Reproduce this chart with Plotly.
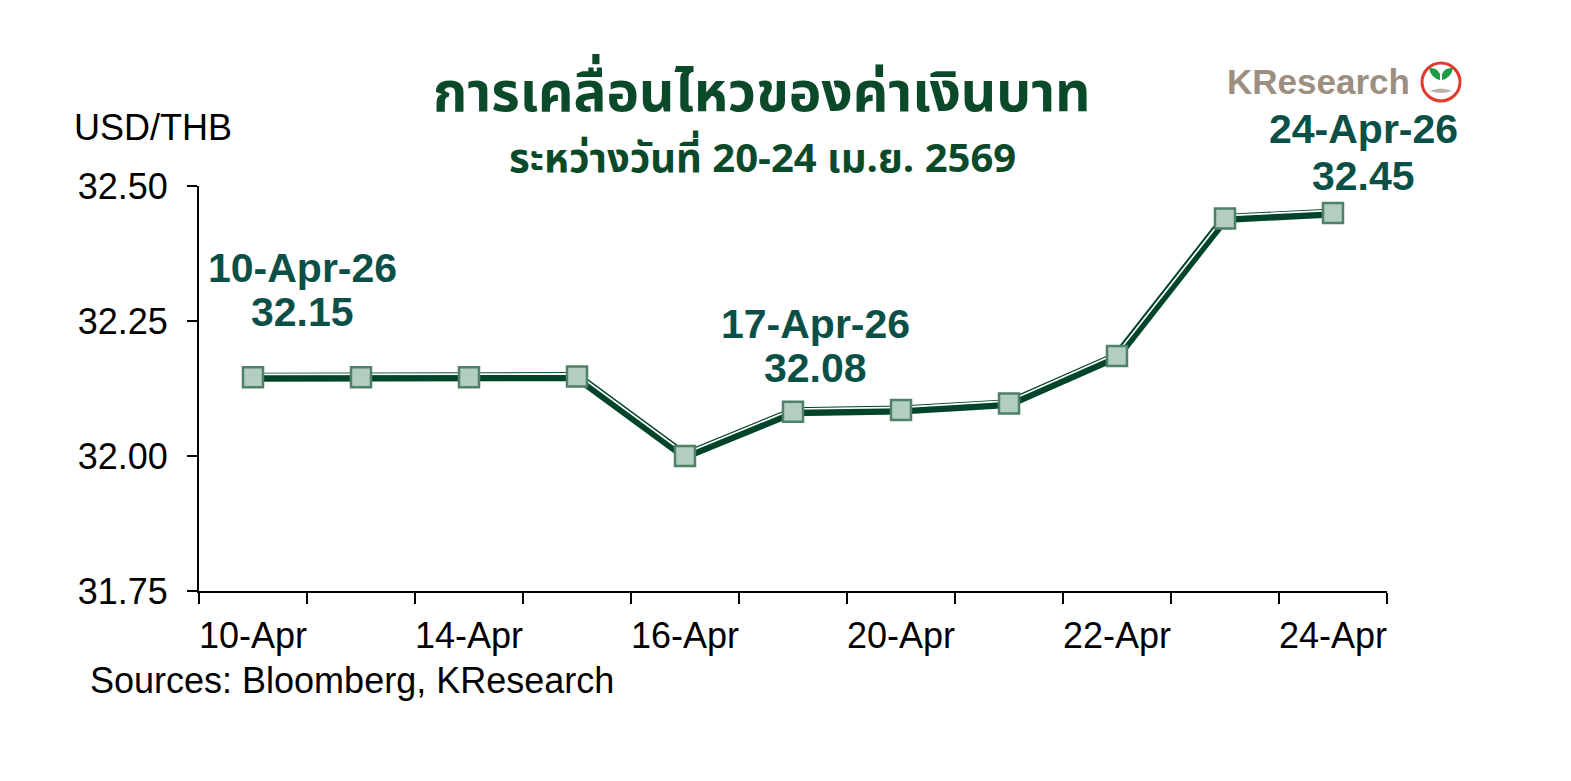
import plotly.graph_objects as go

dates = ["10-Apr", "13-Apr", "14-Apr", "15-Apr", "16-Apr", "17-Apr",
         "20-Apr", "21-Apr", "22-Apr", "23-Apr", "24-Apr"]
usdthb = [32.146, 32.146, 32.146, 32.147, 32.00, 32.082, 32.085, 32.097, 32.185, 32.44, 32.45]
tick_text = [d if i % 2 == 0 else "" for i, d in enumerate(dates)]
y_ticks = [31.75, 32.00, 32.25, 32.50]

callouts = [  # (index, date label, value label, xshift, yshift_date, yshift_value)
    (0, "10-Apr-26", "32.15", 49, 109, 65),
    (5, "17-Apr-26", "32.08", 22, 88, 44),
    (10, "24-Apr-26", "32.45", 30, 84, 37),
]

DARK = "#00452a"
TXT = "#0a5047"
W, H = 1571, 781
L, R, T, B = 199, 1387, 186, 591
pw, ph = R - L, B - T


def px(x):
    return (x - L) / pw


def py(y):
    return (B - y) / ph


fig = go.Figure()
fig.add_trace(go.Scatter(x=dates, y=usdthb, mode="lines",
                         line=dict(color=DARK, width=9), hoverinfo="skip", showlegend=False))
fig.add_trace(go.Scatter(x=dates, y=[v + 0.005 for v in usdthb], mode="lines",
                         line=dict(color="white", width=1.7), hoverinfo="skip", showlegend=False))
fig.add_trace(go.Scatter(x=dates, y=usdthb, mode="markers",
                         marker=dict(symbol="square", size=20, color="#b1cec0",
                                     line=dict(color="#4f8068", width=2.5)),
                         showlegend=False))

ann_font = dict(family="Liberation Sans, Arial, sans-serif", size=41, color=TXT)
for idx, dl, vl, xs, yd, yv in callouts:
    fig.add_annotation(x=dates[idx], y=usdthb[idx], text="<b>%s</b>" % dl, showarrow=False,
                       xshift=xs, yshift=yd, font=ann_font, xanchor="center", yanchor="middle")
    fig.add_annotation(x=dates[idx], y=usdthb[idx], text="<b>%s</b>" % vl, showarrow=False,
                       xshift=xs, yshift=yv, font=ann_font, xanchor="center", yanchor="middle")

thai_font = "Noto Sans Thai, Loma, Garuda, Kinnari, Norasi, Tahoma, sans-serif"
fig.add_annotation(xref="paper", yref="paper", x=px(762), y=py(95),
                   text="<b>การเคลื่อนไหวของค่าเงินบาท</b>", showarrow=False,
                   font=dict(family=thai_font, size=55, color="#0a4a2a"),
                   xanchor="center", yanchor="middle")
fig.add_annotation(xref="paper", yref="paper", x=px(762), y=py(160),
                   text="<b>ระหว่างวันที่ 20-24 เม.ย. 2569</b>", showarrow=False,
                   font=dict(family=thai_font, size=40, color="#0a4a2a"),
                   xanchor="center", yanchor="middle")

reg_font = dict(family="Liberation Sans, Arial, sans-serif", size=36, color="black")
fig.add_annotation(xref="paper", yref="paper", x=px(72), y=py(128), text="USD/THB",
                   showarrow=False, font=reg_font, xanchor="left", yanchor="middle")
fig.add_annotation(xref="paper", yref="paper", x=px(88), y=py(680),
                   text="Sources: Bloomberg, KResearch",
                   showarrow=False, font=reg_font, xanchor="left", yanchor="middle")

# logo
fig.add_annotation(xref="paper", yref="paper", x=px(1412), y=py(82), text="<b>KResearch</b>",
                   showarrow=False, xanchor="right", yanchor="middle",
                   font=dict(family="Liberation Sans, Arial, sans-serif", size=35, color="#9c8f80"))
cx, cy = px(1441), py(82)
fig.add_shape(type="circle", xref="paper", yref="paper", xsizemode="pixel", ysizemode="pixel",
              xanchor=cx, yanchor=cy, x0=-19, x1=19, y0=-19, y1=19,
              line=dict(color="#e33a2f", width=3), fillcolor="white")
fig.add_shape(type="path", xref="paper", yref="paper", xsizemode="pixel", ysizemode="pixel",
              xanchor=cx, yanchor=cy,
              path="M -1,-6 L -1,8 Q -4,15 -12,14 Q -10,4 -1,2 Z M 1,-6 L 1,2 Q 10,4 12,14 Q 4,15 1,8 Z",
              line=dict(width=0), fillcolor="#1f9a45")
fig.add_shape(type="path", xref="paper", yref="paper", xsizemode="pixel", ysizemode="pixel",
              xanchor=cx, yanchor=cy,
              path="M -11,-9 Q 0,-4 11,-9 Q 0,-13 -11,-9 Z",
              line=dict(width=0), fillcolor="#b9b2a6")

fig.update_layout(
    width=W, height=H,
    margin=dict(l=L, r=W - R, t=T, b=H - B, pad=0),
    plot_bgcolor="white", paper_bgcolor="white",
    showlegend=False,
    xaxis=dict(type="category", categoryorder="array", categoryarray=dates,
               range=[-0.5, len(dates) - 0.5], tickmode="array", tickvals=dates,
               ticktext=tick_text, tickson="boundaries", ticks="outside", ticklen=11,
               tickwidth=2, tickcolor="black", showline=True, linecolor="black", linewidth=2,
               showgrid=False, zeroline=False, tickfont=reg_font, tickangle=0,
               ticklabelstandoff=12),
    yaxis=dict(range=[31.75, 32.5], tickmode="array", tickvals=y_ticks, tickformat=".2f",
               ticks="outside", ticklen=10, tickwidth=2, tickcolor="black",
               showline=True, linecolor="black", linewidth=2, showgrid=False, zeroline=False,
               tickfont=reg_font, ticklabelstandoff=12),
)

fig.write_html("out.html", config={"displayModeBar": False},
               post_script="document.body.style.margin='0';")
